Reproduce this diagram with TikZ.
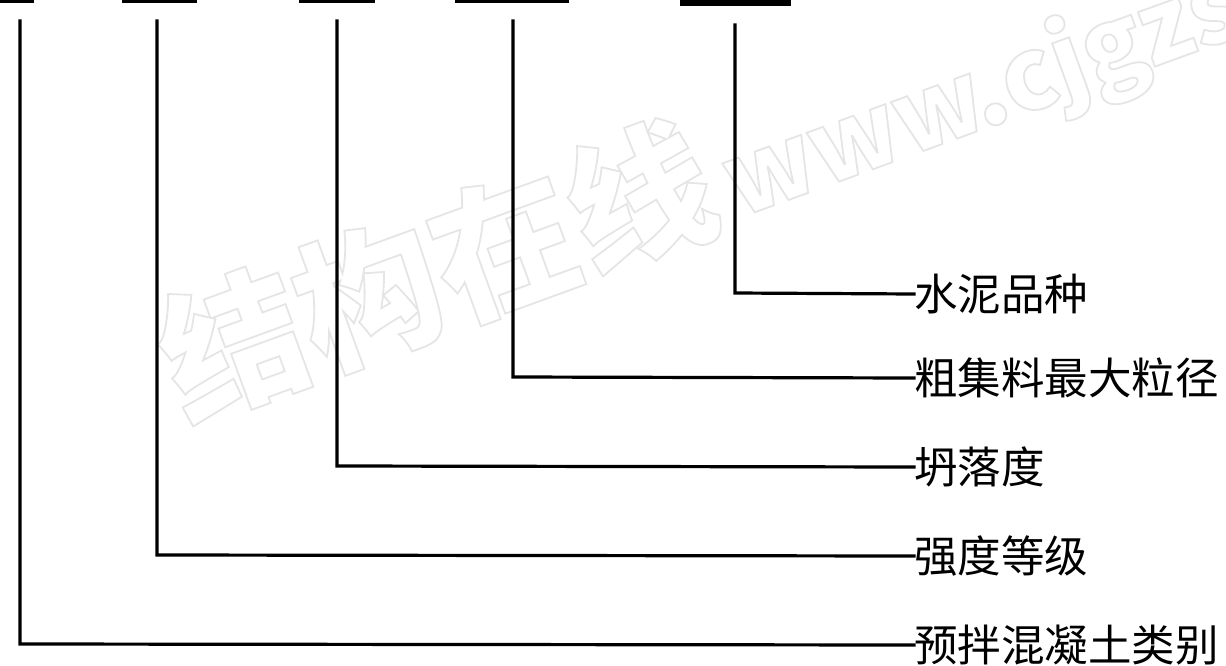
\documentclass[tikz,border=0pt]{standalone}
\usepackage{fontspec}
\newfontfamily\cjk{Noto Sans CJK SC}
\newcommand{\hollowon}{\special{pdf:code 1 Tr 1.8 w 0.9 G}}
\newcommand{\hollowoff}{\special{pdf:code 0 Tr}}
\begin{document}
\begin{tikzpicture}[x=1pt,y=-1pt,
  lead/.style={line width=3.2pt, line cap=rect, black},
  bar/.style={fill=black, draw=none},
  lbl/.style={anchor=west, inner sep=0pt, font=\cjk\fontsize{43.5}{43.5}\selectfont},
  wm/.style={anchor=base west, inner sep=0pt, rotate=20, text=white, font=\cjk\bfseries\fontsize{144}{144}\selectfont}]
\useasboundingbox (0,0) rectangle (1226,666);
% watermark
\node[wm] (wmark) at (184,420) {\hollowon 结构在线\hspace{0.1em}{\fontsize{100}{100}\selectfont www.cjgzs}\hollowoff};
% top bars
\fill[bar] (0,0) rectangle (34,3);
\fill[bar] (122,0) rectangle (197,3);
\fill[bar] (299,0) rectangle (375,3);
\fill[bar] (455,0) rectangle (569,3);
\fill[bar] (680,0) rectangle (791,6);
% tops of leaders
\coordinate (t1) at (20,21);
\coordinate (t2) at (157,21);
\coordinate (t3) at (337,21);
\coordinate (t4) at (513,21);
\coordinate (t5) at (735,25);
% labels
\node[lbl] (l5) at (914,294) {水泥品种};
\node[lbl] (l4) at (914,378) {粗集料最大粒径};
\node[lbl] (l3) at (914,467) {坍落度};
\node[lbl] (l2) at (914,556) {强度等级};
\node[lbl] (l1) at (914,645) {预拌混凝土类别};
% leaders
\draw[lead] (t5) |- (735,293) -- (l5.west);
\draw[lead] (t4) |- (513,377) -- (l4.west);
\draw[lead] (t3) |- (337,466) -- (l3.west);
\draw[lead] (t2) |- (157,555) -- (l2.west);
\draw[lead] (t1) |- (20,644) -- (l1.west);
\end{tikzpicture}
\end{document}
